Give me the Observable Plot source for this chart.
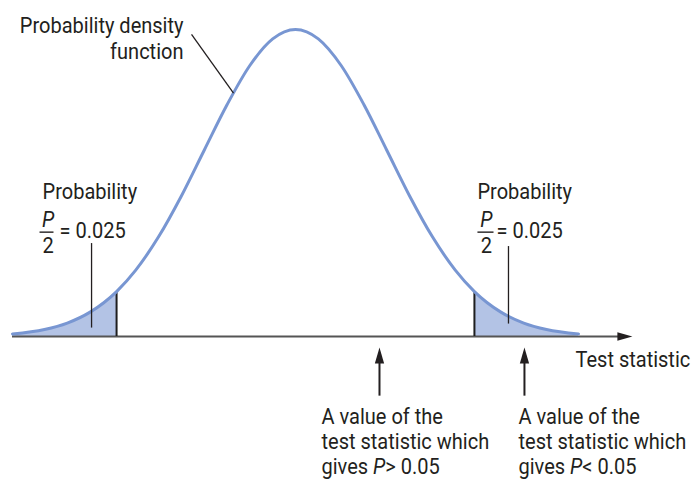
<!DOCTYPE html>
<html>
<head>
<meta charset="utf-8">
<script src="https://cdn.jsdelivr.net/npm/d3@7"></script>
<script src="https://cdn.jsdelivr.net/npm/@observablehq/plot@0.6"></script>
<style>
  html, body { margin: 0; padding: 0; background: #fff; }
  #chart svg { display: block; }
</style>
</head>
<body>
<div id="chart"></div>
<script>
// Test statistic (in SD units) and probability density
const densX = [-3.1, -2.75, -2.5, -2.25, -1.96, -1.75, -1.5, -1.25, -1, -0.75, -0.5, -0.25, 0,
               0.25, 0.5, 0.75, 1, 1.25, 1.5, 1.75, 1.96, 2.25, 2.5, 2.75, 3.1];
const densY = [0.0033, 0.0091, 0.0175, 0.0317, 0.0584, 0.0863, 0.1295, 0.1826, 0.2420, 0.3011, 0.3521, 0.3867, 0.3989,
               0.3867, 0.3521, 0.3011, 0.2420, 0.1826, 0.1295, 0.0863, 0.0584, 0.0317, 0.0175, 0.0091, 0.0033];
const cutoffs = [-1.96, 1.96];
const cutoffDensity = [0.0584, 0.0584];

// Axis
const axisStart = -3.1, axisEnd = 3.6, axisTip = 3.69;
const axisLabel = "Test statistic";
const axisLabelPos = [3.067, -0.040];

// Labels
const pdfLabel = "Probability density\nfunction";
const pdfLabelPos = [-1.227, 0.3602];
const probWord = "Probability";
const probX = [-2.771, 1.993];
const probY = 0.1782;
const fracCenterX = [-2.711, 2.092];
const fracBarX1 = [-2.804, 1.993];
const fracBarX2 = [-2.651, 2.169];
const fracNumY = 0.1420, fracBarY = 0.1356, fracDenY = 0.1084;
const fracNumerator = "P", fracDenominator = "2";
const eqText = "= 0.025";
const eqX = [-2.585, 2.202];
const eqY = 0.1278;

// Leader lines [x1, y1, x2, y2]
const leaderX1 = [-1.139, -2.234, 2.333];
const leaderY1 = [0.3925, 0.1214, 0.1175];
const leaderX2 = [-0.679, -2.234, 2.333];
const leaderY2 = [0.3163, 0.0116, 0.0168];

// Value arrows below the axis
const valueX = [0.920, 2.508];
const arrowBottom = -0.0775, arrowShaftTop = -0.0245, arrowTip = -0.0142;
const valueLabels = ["A value of the\ntest statistic which\ngives P> 0.05",
                     "A value of the\ntest statistic which\ngives P< 0.05"];
const valueLabelX = [0.2848, 2.4425];
const valueLabelY = -0.1782;

const curveData = densX.map((x, i) => ({x, y: densY[i]}));
const leftTail = curveData.filter(d => d.x <= cutoffs[0] + 1e-9);
const rightTail = curveData.filter(d => d.x >= cutoffs[1] - 1e-9);

// elongated triangle, tip at origin pointing up
const arrowHead = {
  draw(context, size) {
    const r = Math.sqrt(size / Math.PI);
    const L = r * 2, w = r * 0.58;
    context.moveTo(0, 0);
    context.lineTo(w, L);
    context.lineTo(-w, L);
    context.closePath();
  }
};

const FONT = "Roboto, 'Liberation Sans', sans-serif";
const INK = "#231f20";
const FS = 22;
const CONDENSE = 0.91;

const chart = Plot.plot({
  width: 697,
  height: 480,
  marginTop: 0, marginRight: 0, marginBottom: 0, marginLeft: 0,
  x: {domain: [-3.1, 3.1], range: [12, 578], axis: null},
  y: {domain: [0, 0.3989], range: [336, 29], axis: null},
  marks: [
    Plot.areaY(leftTail, {x: "x", y: "y", fill: "#b3c3e5", curve: "monotone-x"}),
    Plot.areaY(rightTail, {x: "x", y: "y", fill: "#b3c3e5", curve: "monotone-x"}),
    Plot.ruleY([0], {x1: axisStart, x2: axisEnd, stroke: "#555", strokeWidth: 2}),
    Plot.dot([axisTip], {x: d => d, y: 0, symbol: arrowHead, r: 7.5, rotate: 90, fill: INK, stroke: "none"}),
    Plot.ruleX(cutoffs, {x: d => d, y1: 0, y2: (d, i) => cutoffDensity[i], stroke: "#1e1e1e", strokeWidth: 2}),
    Plot.line(curveData, {x: "x", y: "y", stroke: "#7896d2", strokeWidth: 3, curve: "monotone-x"}),
    Plot.link(leaderX1, {x1: d => d, y1: (d, i) => leaderY1[i], x2: (d, i) => leaderX2[i], y2: (d, i) => leaderY2[i],
      stroke: INK, strokeWidth: 1.3}),
    Plot.ruleX(valueX, {x: d => d, y1: arrowBottom, y2: arrowShaftTop, stroke: INK, strokeWidth: 2}),
    Plot.dot(valueX, {x: d => d, y: arrowTip, symbol: arrowHead, r: 8, fill: INK, stroke: "none"}),
    // texts
    Plot.text([pdfLabel], {x: pdfLabelPos[0], y: pdfLabelPos[1], text: d => d, textAnchor: "end", lineAnchor: "bottom",
      lineHeight: 26 / FS, fontFamily: FONT, fontSize: FS, fill: INK}),
    Plot.text(probX, {x: d => d, y: probY, text: () => probWord, textAnchor: "start", lineAnchor: "bottom",
      fontFamily: FONT, fontSize: FS, fill: INK}),
    Plot.text(fracCenterX, {x: d => d, y: fracNumY, text: () => fracNumerator, textAnchor: "middle", lineAnchor: "bottom",
      fontFamily: FONT, fontSize: FS, fontStyle: "italic", fill: INK}),
    Plot.link(fracBarX1, {x1: d => d, x2: (d, i) => fracBarX2[i], y1: fracBarY, y2: fracBarY, stroke: INK, strokeWidth: 1.4}),
    Plot.text(fracCenterX, {x: d => d, y: fracDenY, text: () => fracDenominator, textAnchor: "middle", lineAnchor: "bottom",
      fontFamily: FONT, fontSize: FS, fill: INK}),
    Plot.text(eqX, {x: d => d, y: eqY, text: () => eqText, textAnchor: "start", lineAnchor: "bottom",
      fontFamily: FONT, fontSize: FS, fill: INK}),
    Plot.text([axisLabel], {x: axisLabelPos[0], y: axisLabelPos[1], text: d => d, textAnchor: "start", lineAnchor: "bottom",
      fontFamily: FONT, fontSize: FS, fill: INK}),
    Plot.text(valueLabels, {x: (d, i) => valueLabelX[i], y: valueLabelY, text: d => d, textAnchor: "start", lineAnchor: "bottom",
      lineHeight: 25 / FS, fontFamily: FONT, fontSize: FS, fill: INK})
  ]
});

// italicise the P in "gives P> 0.05" / "gives P< 0.05"
d3.select(chart).selectAll("text, tspan").each(function () {
  if (this.childElementCount === 0 && /P[<>]/.test(this.textContent)) {
    const t = this.textContent;
    const k = t.search(/P[<>]/);
    this.textContent = "";
    const s = d3.select(this);
    s.append("tspan").text(t.slice(0, k));
    s.append("tspan").attr("font-style", "italic").text("P");
    s.append("tspan").text(t.slice(k + 1));
  }
});

// condensed type like the reference: narrow every text horizontally around its anchor
d3.select(chart).selectAll("text").each(function () {
  const tr = this.getAttribute("transform");
  this.setAttribute("transform", (tr ? tr + " " : "") + `scale(${CONDENSE},1)`);
});

document.getElementById("chart").appendChild(chart);
</script>
</body>
</html>
